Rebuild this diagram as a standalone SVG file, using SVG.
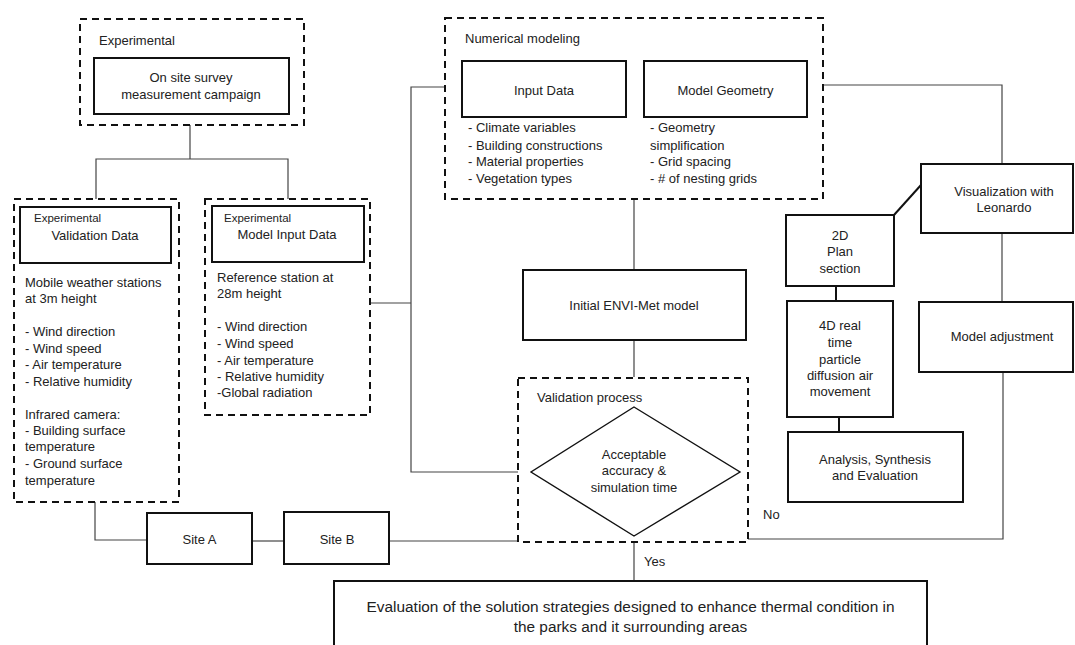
<svg xmlns="http://www.w3.org/2000/svg" width="1075" height="645" viewBox="0 0 1075 645">
<style>
text{font-family:"Liberation Sans",Arial,sans-serif;font-size:13px;fill:#222}
.c{text-anchor:middle}
.s{font-size:11.5px}
.big{font-size:15.4px}
.dash{fill:none;stroke:#111;stroke-width:2;stroke-dasharray:7 5}
.box{fill:#fff;stroke:#111;stroke-width:2}
.ln{fill:none;stroke:#444;stroke-width:1.2}
.tk{fill:none;stroke:#111;stroke-width:2}
</style>
<rect width="1075" height="645" fill="#fff"/>
<g id="connectors">
<polyline class="ln" points="190,125 190,159"/>
<polyline class="ln" points="96,199 96,159 288,159 288,199"/>
<polyline class="ln" points="370,303 411,303"/>
<polyline class="ln" points="445,87 411,87 411,472 518,472"/>
<polyline class="ln" points="95,502 95,540 147,540"/>
<polyline class="ln" points="252,541 284,541"/>
<polyline class="ln" points="389,541 518,541"/>
<polyline class="ln" points="634,199 634,270"/>
<polyline class="ln" points="634,340 634,377"/>
<polyline class="ln" points="634,542 634,581"/>
<polyline class="ln" points="748,539 1003,539 1003,372"/>
<polyline class="ln" points="823,85 1002,85 1002,164"/>
<polyline class="ln" points="1002,233 1002,302"/>
<polyline class="tk" points="921,185 894,215"/>
<polyline class="tk" points="836,286 836,301"/>
<polyline class="tk" points="839,417 839,432"/>
<text x="644" y="566">Yes</text>
<text x="763" y="519">No</text>
</g>
<g id="experimental">
<rect class="dash" x="80" y="19" width="224" height="106"/>
<text x="99" y="45">Experimental</text>
<rect class="box" x="94" y="58" width="195" height="56"/>
<text class="c" x="191" y="82">On site survey</text>
<text class="c" x="191" y="99">measurement campaign</text>
</g>
<g id="validation-data">
<rect class="dash" x="14" y="199" width="165" height="303"/>
<rect class="box" x="20" y="207" width="151" height="56"/>
<text class="s" x="34" y="222">Experimental</text>
<text class="c" x="95" y="239.5">Validation Data</text>
<text x="25" y="286.5">Mobile weather stations</text>
<text x="25" y="302.5">at 3m height</text>
<text x="25" y="336">- Wind direction</text>
<text x="25" y="353">- Wind speed</text>
<text x="25" y="369">- Air temperature</text>
<text x="25" y="385.5">- Relative humidity</text>
<text x="25" y="418.5">Infrared camera:</text>
<text x="25" y="435">- Building surface</text>
<text x="25" y="451">temperature</text>
<text x="25" y="468">- Ground surface</text>
<text x="25" y="484.5">temperature</text>
</g>
<g id="model-input-data">
<rect class="dash" x="205" y="199" width="165" height="216"/>
<rect class="box" x="212" y="206" width="152" height="56"/>
<text class="s" x="224" y="222">Experimental</text>
<text class="c" x="287" y="238.5">Model Input Data</text>
<text x="217" y="281.5">Reference station at</text>
<text x="217" y="297.5">28m height</text>
<text x="217" y="331">- Wind direction</text>
<text x="217" y="348">- Wind speed</text>
<text x="217" y="364.5">- Air temperature</text>
<text x="217" y="381">- Relative humidity</text>
<text x="217" y="397">-Global radiation</text>
</g>
<g id="numerical-modeling">
<rect class="dash" x="445" y="18" width="378" height="181"/>
<text x="465" y="42.5">Numerical modeling</text>
<rect class="box" x="462" y="61" width="164" height="56"/>
<text class="c" x="544" y="94.5">Input Data</text>
<rect class="box" x="644" y="61" width="163" height="56"/>
<text class="c" x="725.5" y="94.5">Model Geometry</text>
<text x="468" y="132">- Climate variables</text>
<text x="468" y="149.5">- Building constructions</text>
<text x="468" y="166">- Material properties</text>
<text x="468" y="183">- Vegetation types</text>
<text x="650" y="132">- Geometry</text>
<text x="650" y="149.5">simplification</text>
<text x="650" y="166">- Grid spacing</text>
<text x="650" y="183">- # of nesting grids</text>
</g>
<g id="envi-met">
<rect class="box" x="523" y="270" width="223" height="70"/>
<text class="c" x="634" y="310">Initial ENVI-Met model</text>
</g>
<g id="validation-process">
<rect class="dash" x="518" y="378" width="230" height="164"/>
<text x="537" y="401.5">Validation process</text>
<polygon points="634,407 740,472 634,536 531,472" fill="#fff" stroke="#111" stroke-width="1.4"/>
<text class="c" x="634" y="458.5">Acceptable</text>
<text class="c" x="634" y="475">accuracy &amp;</text>
<text class="c" x="634" y="491.5">simulation time</text>
</g>
<g id="site-a">
<rect class="box" x="147" y="513" width="105" height="51"/>
<text class="c" x="199.5" y="543.5">Site A</text>
</g>
<g id="site-b">
<rect class="box" x="284" y="512" width="105" height="52"/>
<text class="c" x="337" y="543.5">Site B</text>
</g>
<g id="visualization">
<rect class="box" x="921" y="164" width="152" height="69"/>
<text class="c" x="1004" y="195.5">Visualization with</text>
<text class="c" x="1004" y="211.5">Leonardo</text>
</g>
<g id="plan-section">
<rect class="box" x="786" y="215" width="108" height="71"/>
<text class="c" x="840" y="239.5">2D</text>
<text class="c" x="840" y="256">Plan</text>
<text class="c" x="840" y="272.5">section</text>
</g>
<g id="particle-diffusion">
<rect class="box" x="787" y="301" width="106" height="116"/>
<text class="c" x="840" y="330">4D real</text>
<text class="c" x="840" y="347">time</text>
<text class="c" x="840" y="363.5">particle</text>
<text class="c" x="840" y="380">diffusion air</text>
<text class="c" x="840" y="396">movement</text>
</g>
<g id="analysis">
<rect class="box" x="788" y="432" width="175" height="70"/>
<text class="c" x="875" y="463.5">Analysis, Synthesis</text>
<text class="c" x="875" y="480">and Evaluation</text>
</g>
<g id="model-adjustment">
<rect class="box" x="919" y="302" width="154" height="70"/>
<text class="c" x="1002" y="341">Model adjustment</text>
</g>
<g id="evaluation">
<rect class="box" x="334" y="581" width="593" height="80"/>
<text class="c big" x="630.5" y="611.5">Evaluation of the solution strategies designed to enhance thermal condition in</text>
<text class="c big" x="630.5" y="631.5">the parks and it surrounding areas</text>
</g>
</svg>
